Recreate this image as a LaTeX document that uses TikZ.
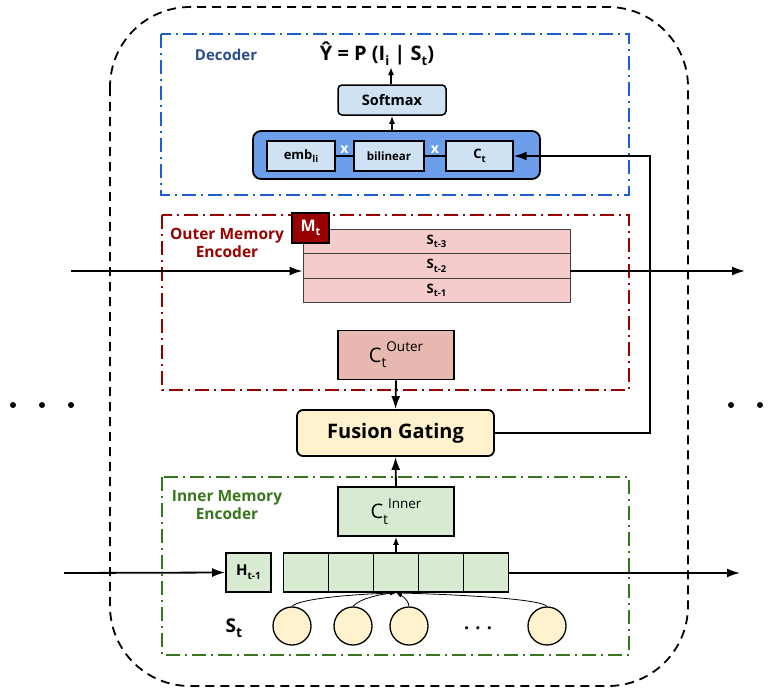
\documentclass[tikz,border=0pt]{standalone}
\usepackage{fontspec}
\setmainfont{Open Sans}
\usetikzlibrary{arrows.meta}
\definecolor{decblue}{HTML}{1C5FD0}
\definecolor{dectxt}{HTML}{2A4E8C}
\definecolor{outred}{HTML}{990000}
\definecolor{ingreen}{HTML}{38761D}
\definecolor{boxblue}{HTML}{CFE2F3}
\definecolor{bigblue}{HTML}{6D9EEB}
\definecolor{pinkfill}{HTML}{F4CCCC}
\definecolor{outerfill}{HTML}{E6B8AF}
\definecolor{creamfill}{HTML}{FFF2CC}
\definecolor{greenfill}{HTML}{D9EAD3}
\newcommand{\fs}[1]{\fontsize{#1}{#1}\selectfont}
\newcommand{\lo}[2]{\raisebox{-0.5ex}{\fs{#1}#2}}
\newcommand{\hi}[2]{\raisebox{1.0ex}{\fs{#1}#2}}
\tikzset{
  arr/.style={line width=1.8pt,-{Latex[length=13pt,width=9pt]}},
  sarr/.style={line width=1.6pt,-{Latex[length=8pt,width=6pt]}},
  tarr/.style={line width=0.8pt,-{Latex[length=6pt,width=4pt]}},
  frame/.style={line width=1.9pt,dash pattern=on 14pt off 5pt on 2pt off 5pt},
  bx/.style={draw,line width=1.8pt,inner sep=0pt},
  row/.style={draw=black!75,line width=0.9pt,fill=pinkfill,minimum width=267pt,minimum height=24.5pt,inner sep=0pt,font=\bfseries\fs{13}},
  cell/.style={bx,fill=greenfill,minimum width=45pt,minimum height=39pt},
  circ/.style={circle,draw,line width=1.3pt,fill=creamfill,minimum size=38pt,inner sep=0pt},
  dot/.style={circle,fill=black,inner sep=0pt,minimum size=6pt},
}
\begin{document}
\begin{tikzpicture}[x=1pt,y=-1pt]
\useasboundingbox (0,0) rectangle (781,691);
% outer frame
\draw[line width=1.8pt,dash pattern=on 9pt off 6pt,rounded corners=80pt] (110,7) rectangle (688,686);
% colored frames
\draw[frame,decblue] (161,34) rectangle (629,195);
\draw[frame,outred] (162,215) rectangle (629,390);
\draw[frame,ingreen] (162,477) rectangle (629,655);

% ---- Decoder
\node[font=\bfseries\fs{15},text=dectxt] (declbl) at (226,55) {Decoder};
\node[font=\bfseries\fs{20}] (yhat) at (377,54) {Ŷ = P (I\lo{13}{i} | S\lo{13}{t})};
\node[bx,line width=1.5pt,rounded corners=4pt,fill=boxblue,minimum width=108pt,minimum height=30pt,font=\bfseries\fs{14.5}] (soft) at (392,100) {Softmax};
\node[bx,rounded corners=8pt,fill=bigblue,minimum width=287pt,minimum height=48pt] (bigb) at (396.5,155) {};
\node[bx,line width=1.3pt,fill=boxblue,minimum width=68pt,minimum height=30pt,font=\bfseries\fs{13}] (emb) at (301,156) {emb\lo{9.5}{li}};
\node[bx,line width=1.3pt,fill=boxblue,minimum width=70pt,minimum height=30pt,font=\bfseries\fs{11.5}] (bil) at (389,156) {bilinear};
\node[bx,line width=1.3pt,fill=boxblue,minimum width=67pt,minimum height=30pt,font=\bfseries\fs{13}] (ct) at (479.5,156) {C\lo{9.5}{t}};
\draw[line width=1.3pt] (emb) -- node[above=-1pt,text=white,font=\bfseries\fs{14}] (x1) {x} (bil);
\draw[line width=1.3pt] (bil) -- node[above=-1pt,text=white,font=\bfseries\fs{14}] (x2) {x} (ct);
\draw[sarr] (bigb.north -| soft) -- (soft.south);
\coordinate (ytip) at (391,67);
\draw[sarr] (soft.north -| ytip) -- (ytip);

% ---- Outer memory encoder
\node[font=\bfseries\fontsize{15.5}{18}\selectfont,text=outred,align=center] (outlbl) at (227,243) {Outer Memory\\Encoder};
\node[row] (r3) at (436.5,241.25) {S\lo{9.5}{t-3}};
\node[row] (r2) at (436.5,265.75) {S\lo{9.5}{t-2}};
\node[row] (r1) at (436.5,290.25) {S\lo{9.5}{t-1}};
\node[draw,line width=1.2pt,fill=outred,minimum width=37pt,minimum height=30pt,inner sep=0pt,text=white,font=\bfseries\fs{16}] (mt) at (310.5,228) {M\lo{11}{t}};
\coordinate (oin) at (71,271);
\coordinate (oout) at (745,271);
\draw[arr] (oin) -- (oin -| r2.west);
\draw[arr] (oin -| r2.east) -- (oout);
\node[bx,fill=outerfill,minimum width=116pt,minimum height=49pt,font=\fs{20}] (cout) at (396,355) {C\lo{14}{t}\hi{13.5}{Outer}};

% ---- Fusion
\node[bx,rounded corners=6pt,fill=creamfill,minimum width=197pt,minimum height=46pt,font=\bfseries\fs{20}] (fus) at (395.5,433) {Fusion Gating};
\draw[arr] (cout.south) -- (fus.north);
\draw[arr] (fus.east) -- ++(155,0) |- (ct.east);

% ---- Inner memory encoder
\node[font=\bfseries\fontsize{15.5}{18}\selectfont,text=ingreen,align=center] (inlbl) at (227,505) {Inner Memory\\Encoder};
\node[bx,fill=greenfill,minimum width=116pt,minimum height=49pt,font=\fs{20}] (cin) at (396,511.5) {C\lo{14}{t}\hi{13.5}{Inner}};
\draw[arr] (cin.north) -- (fus.south);
\node[cell] (c1) at (306,572.5) {};
\node[cell] (c2) at (351,572.5) {};
\node[cell] (c3) at (396,572.5) {};
\node[cell] (c4) at (441,572.5) {};
\node[cell] (c5) at (486,572.5) {};
\node[cell,font=\bfseries\fs{15}] (h) at (248.5,572.5) {H\lo{10}{t-1}};
\draw[sarr] (c3.north) -- (cin.south);
\coordinate (iin) at (64,573);
\coordinate (iout) at (740,573);
\draw[arr] (iin) -- (h.west);
\draw[arr] (c5.east |- iout) -- (iout);
\node[circ] (s1) at (292,626) {};
\node[circ] (s2) at (353,626) {};
\node[circ] (s3) at (409,626) {};
\node[circ] (s4) at (547,626) {};
\node[font=\bfseries\fs{18}] (dots) at (478,628) {. . .};
\node[font=\bfseries\fs{19}] (st) at (234,628) {S\lo{14}{t}};
\draw[tarr] (s1.north) .. controls (300,598) and (360,594) .. (c3.south);
\draw[tarr] (s2.north) .. controls (360,598) and (382,594) .. (c3.south);
\draw[tarr] (s3.north) .. controls (408,598) and (400,595) .. (c3.south);
\draw[tarr] (s4.north) .. controls (540,598) and (440,594) .. (c3.south);

% ---- ellipsis
\node[dot] (l1) at (13,405) {};
\node[dot] (l2) at (42,405) {};
\node[dot] (l3) at (71,405) {};
\node[dot] (q1) at (731,405) {};
\node[dot] (q2) at (760,405) {};
\end{tikzpicture}
\end{document}
